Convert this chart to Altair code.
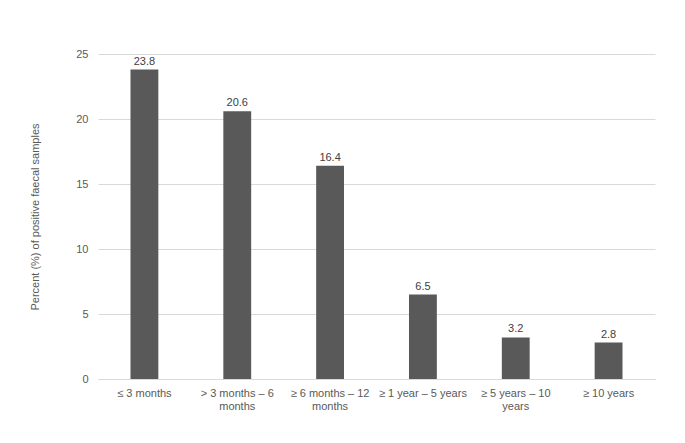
import altair as alt
import pandas as pd

categories = ["≤ 3 months", "> 3 months – 6|months", "≥ 6 months – 12|months",
              "≥ 1 year – 5 years", "≥ 5 years – 10|years", "≥ 10 years"]
values = [23.8, 20.6, 16.4, 6.5, 3.2, 2.8]

df = pd.DataFrame({"cat": categories, "val": values,
                   "lbl": [f"{v:.1f}" for v in values]})

FONT = "Liberation Sans"
GREY = "#595959"

base = alt.Chart(df).encode(
    x=alt.X("cat:N", sort=categories,
            scale=alt.Scale(paddingInner=0.7, paddingOuter=0.35),
            axis=alt.Axis(title=None, labelAngle=0, ticks=False, domain=True,
                          domainColor="#d9d9d9", labelColor=GREY, labelFont=FONT,
                          labelFontSize=11, labelPadding=8, labelLimit=200,
                          labelExpr="split(datum.label, '|')", labelLineHeight=13)),
    y=alt.Y("val:Q", scale=alt.Scale(domain=[0, 25], nice=False),
            axis=alt.Axis(title="Percent (%) of positive faecal samples",
                          values=[0, 5, 10, 15, 20, 25], ticks=False, domain=False,
                          gridColor="#d9d9d9", labelColor=GREY, labelFont=FONT,
                          labelFontSize=11, labelPadding=10,
                          titleColor=GREY, titleFont=FONT, titleFontSize=11,
                          titleFontWeight="normal", titlePadding=35)),
)

bars = base.mark_bar(color=GREY)
text = base.mark_text(dy=-8, font=FONT, fontSize=11, color="#404040").encode(text="lbl:N")

chart = (bars + text).properties(
    width=557, height=325,
    padding={"left": 90, "top": 46, "right": 20, "bottom": 40},
    autosize=alt.AutoSizeParams(type="none"),
).configure_view(stroke=None)

chart.save("out.html", embed_options={"renderer": "svg", "actions": False})
